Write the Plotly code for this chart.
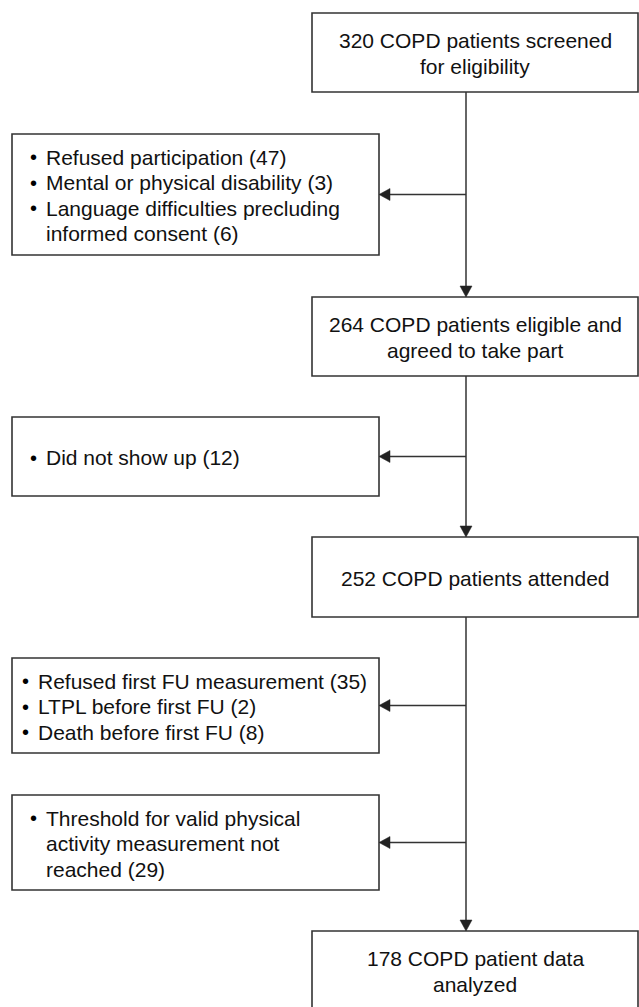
import plotly.graph_objects as go

W, H = 639, 1007

# box texts, top to bottom
main_labels = [
    ["320 COPD patients screened", "for eligibility"],
    ["264 COPD patients eligible and", "agreed to take part"],
    ["252 COPD patients attended"],
    ["178 COPD patient data", "analyzed"],
]

# exclusion boxes: each bullet is a list of wrapped lines
excl_items = [
    [["Refused participation (47)"],
     ["Mental or physical disability (3)"],
     ["Language difficulties precluding", "informed consent (6)"]],
    [["Did not show up (12)"]],
    [["Refused first FU measurement (35)"],
     ["LTPL before first FU (2)"],
     ["Death before first FU (8)"]],
    [["Threshold for valid physical", "activity measurement not", "reached (29)"]],
]

# layout in pixels (y grows downward)
main_x = (312, 638)
main_y = [(13, 92), (297, 376), (537, 617), (931, 1010)]
side_x = (12, 379)
side_y = [(134, 255), (417, 496), (658, 753), (795, 890)]
bullet_x = [33, 33, 25, 33]
spine_x = 466
line_h = 25.5
font = dict(family="Liberation Sans", size=21, color="#111111")
bullet_font = dict(family="Liberation Sans", size=20, color="#000000")
stroke = "#333333"

shapes = []
annotations = []


def rect(x0, x1, y0, y1):
    shapes.append(dict(type="rect", x0=x0, x1=x1, y0=y0, y1=y1,
                       line=dict(color=stroke, width=1.6), fillcolor="white", layer="below"))


def seg(x0, y0, x1, y1):
    shapes.append(dict(type="line", x0=x0, y0=y0, x1=x1, y1=y1,
                       line=dict(color=stroke, width=1.5), layer="below"))


def tri(path):
    shapes.append(dict(type="path", path=path, fillcolor="#222222",
                       line=dict(color="#222222", width=0.5)))


def text(x, y, s, anchor, f=font):
    annotations.append(dict(x=x, y=y, text=s, showarrow=False, xanchor=anchor,
                            yanchor="middle", font=f))


# main boxes
for (y0, y1), lines in zip(main_y, main_labels):
    rect(main_x[0], main_x[1], y0, y1)
    cx = (main_x[0] + main_x[1]) / 2
    cy = (y0 + y1) / 2 + 1
    n = len(lines)
    for i, s in enumerate(lines):
        text(cx, cy + (i - (n - 1) / 2) * line_h, s, "center")

# spine with down arrows
for k in range(len(main_y) - 1):
    top = main_y[k][1]
    bot = main_y[k + 1][0]
    seg(spine_x, top, spine_x, bot - 10)
    tri(f"M {spine_x - 6} {bot - 11} L {spine_x + 6} {bot - 11} L {spine_x} {bot} Z")

# exclusion boxes with left arrows
for (y0, y1), items, bx in zip(side_y, excl_items, bullet_x):
    rect(side_x[0], side_x[1], y0, y1)
    cy = (y0 + y1) / 2
    seg(spine_x, cy, side_x[1] + 10, cy)
    tri(f"M {side_x[1] + 11} {cy - 6} L {side_x[1] + 11} {cy + 6} L {side_x[1]} {cy} Z")
    flat = []
    for item in items:
        for j, s in enumerate(item):
            flat.append((j == 0, s))
    n = len(flat)
    for i, (first, s) in enumerate(flat):
        y = cy + 1 + (i - (n - 1) / 2) * line_h
        if first:
            text(bx, y, "\u2022", "center", bullet_font)
        text(bx + 11, y, s, "left")

fig = go.Figure()
fig.update_layout(
    width=W, height=H,
    margin=dict(l=0, r=0, t=0, b=0),
    paper_bgcolor="white", plot_bgcolor="white",
    xaxis=dict(range=[0, W], visible=False, fixedrange=True),
    yaxis=dict(range=[H, 0], visible=False, fixedrange=True),
    shapes=shapes,
    annotations=annotations,
    showlegend=False,
)

fig.write_html("out.html", config={"displayModeBar": False},
               post_script="document.body.style.margin='0';")
